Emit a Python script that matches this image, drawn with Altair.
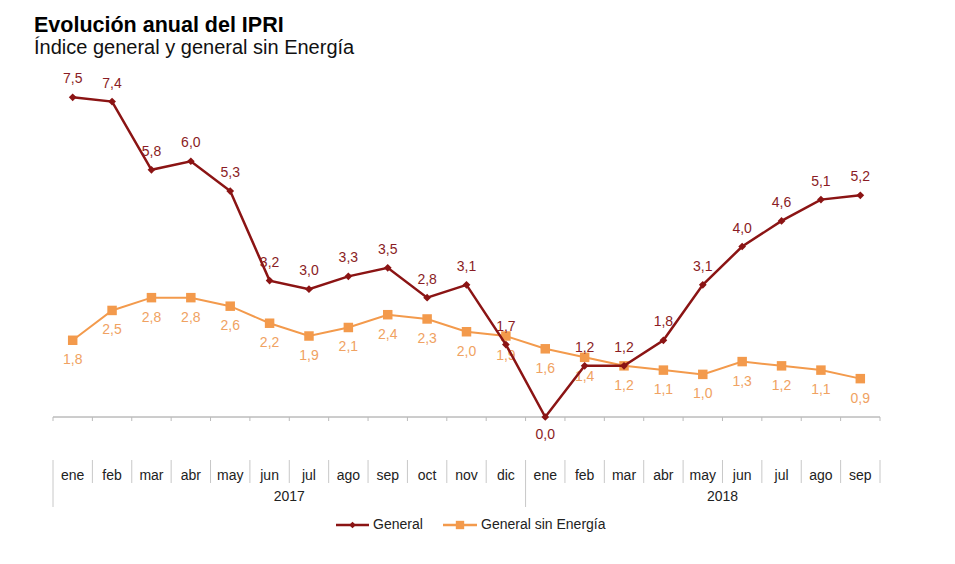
import altair as alt
import pandas as pd

months = ["ene", "feb", "mar", "abr", "may", "jun", "jul", "ago", "sep", "oct", "nov", "dic",
          "ene", "feb", "mar", "abr", "may", "jun", "jul", "ago", "sep"]
years = ["2017"] * 12 + ["2018"] * 9
general = [7.5, 7.4, 5.8, 6.0, 5.3, 3.2, 3.0, 3.3, 3.5, 2.8, 3.1, 1.7,
           0.0, 1.2, 1.2, 1.8, 3.1, 4.0, 4.6, 5.1, 5.2]
sin_energia = [1.8, 2.5, 2.8, 2.8, 2.6, 2.2, 1.9, 2.1, 2.4, 2.3, 2.0, 1.9,
               1.6, 1.4, 1.2, 1.1, 1.0, 1.3, 1.2, 1.1, 0.9]
year_labels = ["2017", "2018"]

FONT = "Liberation Sans"
RED = "#8B1414"
RED_TXT = "#8A1C24"
ORANGE = "#F39A4C"
ORANGE_TXT = "#F0A262"
GRAY = "#9A9A9A"
FS = 14

n = len(months)
df = pd.DataFrame({
    "idx": list(range(n)),
    "mes": months,
    "anio": years,
    "General": general,
    "General sin Energía": sin_energia,
})
df["lab_g"] = [f"{v:.1f}".replace(".", ",") for v in general]
df["lab_s"] = [f"{v:.1f}".replace(".", ",") for v in sin_energia]

bounds = pd.DataFrame({"b": [i - 0.5 for i in range(n + 1)]})
bounds["long"] = [(i == 0 or i == 12) for i in range(n + 1)]
year_df = pd.DataFrame({"anio": year_labels, "pos": [5.5, 16.5]})

W, H = 827, 341
xs = alt.Scale(domain=[-0.5, n - 0.5], nice=False, zero=False)
ys = alt.Scale(domain=[0, 8], nice=False)
X = alt.X("idx:Q", scale=xs, axis=None)
Y = alt.Y("v:Q", scale=ys, axis=None)

base = alt.Chart(df)

axis_line = alt.Chart(pd.DataFrame({"a": [-0.5], "b": [n - 0.5], "v": [0.0]})).mark_rule(
    color=GRAY, strokeWidth=1).encode(x=alt.X("a:Q", scale=xs, axis=None), x2="b:Q", y=Y)

ticks = alt.Chart(bounds).mark_rule(color="#BBBBBB", strokeWidth=1).encode(
    x=alt.X("b:Q", scale=xs, axis=None), y=alt.value(H), y2=alt.value(H + 4))

seps_short = alt.Chart(bounds).mark_rule(color="#C8C8C8", strokeWidth=1).encode(
    x=alt.X("b:Q", scale=xs, axis=None), y=alt.value(384), y2=alt.value(407))
seps_long = alt.Chart(bounds).transform_filter("datum.long").mark_rule(
    color="#C8C8C8", strokeWidth=1).encode(
    x=alt.X("b:Q", scale=xs, axis=None), y=alt.value(407), y2=alt.value(431))

month_txt = base.mark_text(font=FONT, fontSize=FS, color="#222222", baseline="middle").encode(
    x=X, y=alt.value(400), text="mes:N")
year_txt = alt.Chart(year_df).mark_text(font=FONT, fontSize=FS, color="#222222",
                                        baseline="middle").encode(
    x=alt.X("pos:Q", scale=xs, axis=None), y=alt.value(421), text="anio:N")

line_s = base.mark_line(color=ORANGE, strokeWidth=2).encode(
    x=X, y=alt.Y("General sin Energía:Q", scale=ys, axis=None))
pts_s = base.mark_point(shape="square", filled=True, opacity=1, color=ORANGE, size=90).encode(
    x=X, y=alt.Y("General sin Energía:Q", scale=ys, axis=None))
lab_s = base.mark_text(font=FONT, fontSize=FS, color=ORANGE_TXT, dy=20).encode(
    x=X, y=alt.Y("General sin Energía:Q", scale=ys, axis=None), text="lab_s:N")

line_g = base.mark_line(color=RED, strokeWidth=2.5).encode(
    x=X, y=alt.Y("General:Q", scale=ys, axis=None))
pts_g = base.mark_point(shape="diamond", filled=True, opacity=1, color=RED, size=60).encode(
    x=X, y=alt.Y("General:Q", scale=ys, axis=None))
lab_g_up = base.transform_filter("datum.General > 0").mark_text(
    font=FONT, fontSize=FS, color=RED_TXT, dy=-18).encode(
    x=X, y=alt.Y("General:Q", scale=ys, axis=None), text="lab_g:N")
lab_g_dn = base.transform_filter("datum.General <= 0").mark_text(
    font=FONT, fontSize=FS, color=RED_TXT, dy=18).encode(
    x=X, y=alt.Y("General:Q", scale=ys, axis=None), text="lab_g:N")

# legend
leg = alt.Chart(pd.DataFrame({"k": [0]}))
leg_g_line = leg.mark_rule(color=RED, strokeWidth=2.5).encode(
    x=alt.value(283), x2=alt.value(316), y=alt.value(449))
leg_g_pt = leg.mark_point(shape="diamond", filled=True, opacity=1, color=RED, size=45).encode(
    x=alt.value(299.5), y=alt.value(449))
leg_g_txt = leg.mark_text(font=FONT, fontSize=FS, color="#222222", align="left",
                          baseline="middle", text="General").encode(
    x=alt.value(320), y=alt.value(449))
leg_s_line = leg.mark_rule(color=ORANGE, strokeWidth=2.5).encode(
    x=alt.value(390), x2=alt.value(424), y=alt.value(449))
leg_s_pt = leg.mark_point(shape="square", filled=True, opacity=1, color=ORANGE, size=70).encode(
    x=alt.value(407), y=alt.value(449))
leg_s_txt = leg.mark_text(font=FONT, fontSize=FS, color="#222222", align="left",
                          baseline="middle", text="General sin Energía").encode(
    x=alt.value(428), y=alt.value(449))

chart = alt.layer(
    axis_line, ticks, seps_short, seps_long, month_txt, year_txt,
    line_s, pts_s, lab_s, line_g, pts_g, lab_g_up, lab_g_dn,
    leg_g_line, leg_g_pt, leg_g_txt, leg_s_line, leg_s_pt, leg_s_txt,
).properties(
    width=W, height=H,
    autosize=alt.AutoSizeParams(type="none"),
    padding={"left": 45, "top": 68, "right": 60, "bottom": 130},
    title=alt.TitleParams(
        text="Evolución anual del IPRI",
        subtitle="Índice general y general sin Energía",
        font=FONT, fontSize=21.5, fontWeight="bold", color="#000000",
        subtitleFont=FONT, subtitleFontSize=20, subtitleColor="#111111",
        subtitlePadding=2,
        anchor="start", frame="group", dx=-19, offset=14,
    ),
).configure_view(stroke=None)

chart.save("out.html", embed_options={"renderer": "svg", "actions": False})
